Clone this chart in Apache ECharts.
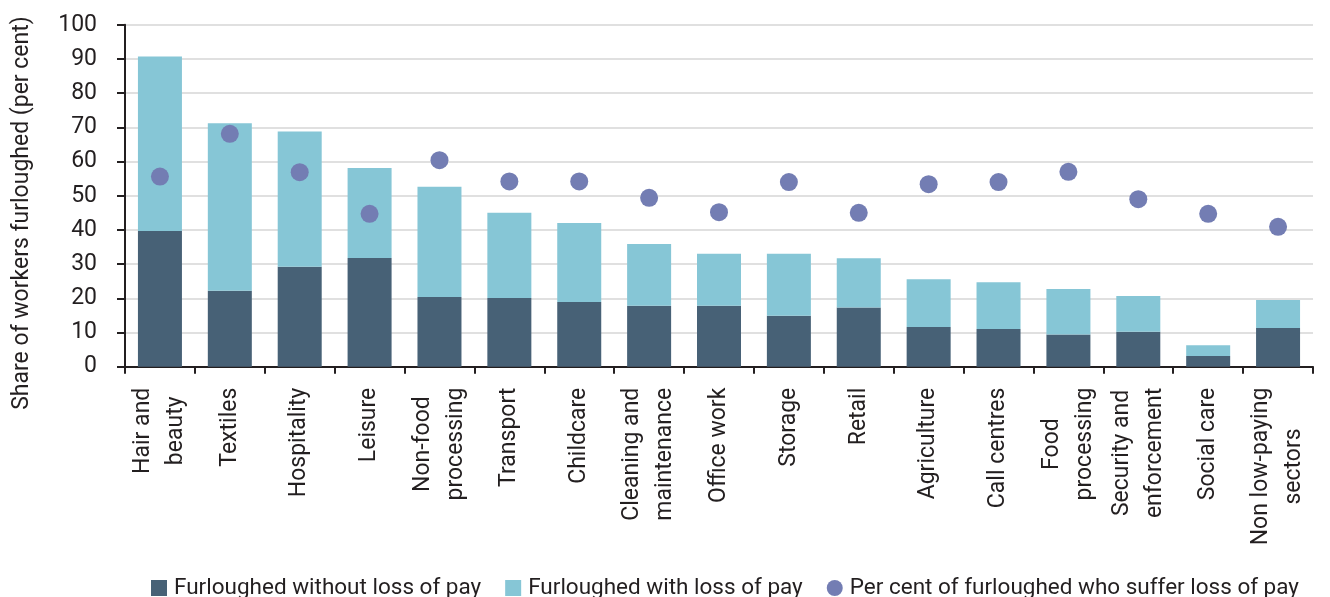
<!DOCTYPE html>
<html>
<head>
<meta charset="utf-8">
<script src="https://cdn.jsdelivr.net/npm/echarts@6/dist/echarts.min.js"></script>
<style>
html,body{margin:0;padding:0;background:#ffffff;}
#chart{width:1330px;height:597px;}
</style>
</head>
<body>
<div id="chart"></div>
<script>
// ---- Data ----
const categories = [
  'Hair and\nbeauty', 'Textiles', 'Hospitality', 'Leisure', 'Non-food\nprocessing',
  'Transport', 'Childcare', 'Cleaning and\nmaintenance', 'Office work', 'Storage',
  'Retail', 'Agriculture', 'Call centres', 'Food\nprocessing', 'Security and\nenforcement',
  'Social care', 'Non low-paying\nsectors'
];
const withoutLossOfPay = [39.7, 22.2, 29.2, 31.8, 20.4, 20.1, 18.9, 17.8, 17.8, 14.9, 17.3, 11.6, 11.0, 9.4, 10.2, 3.1, 11.3];
const withLossOfPay    = [51.0, 49.0, 39.6, 26.3, 32.2, 24.9, 23.1, 18.1, 15.2, 18.1, 14.4, 14.0, 13.7, 13.3, 10.5, 3.2, 8.2];
const shareSufferLoss  = [55.6, 68.1, 56.9, 44.7, 60.4, 54.2, 54.2, 49.4, 45.2, 54.0, 45.0, 53.4, 54.0, 57.0, 49.0, 44.7, 40.9];
const yAxisMin = 0, yAxisMax = 100, yAxisStep = 10;
const seriesNames = ['Furloughed without loss of pay', 'Furloughed with loss of pay', 'Per cent of furloughed who suffer loss of pay'];
const yAxisTitle = 'Share of workers furloughed (per cent)';

// ---- Styling ----
const FONT = "Roboto, 'Liberation Sans', sans-serif";
const FS = 23;
const TEXT = '#231f20';
const DARK = '#476176';
const LIGHT = '#86c6d6';
const DOT = '#737db3';

const chart = echarts.init(document.getElementById('chart'), null, {renderer: 'canvas'});
chart.setOption({
  animation: false,
  backgroundColor: '#ffffff',
  textStyle: {fontFamily: FONT, color: TEXT},
  grid: {left: 125, right: 17, top: 24.8, bottom: 230.3, containLabel: false, outerBoundsMode: 'none'},
  legend: {
    left: 146, top: 570,
    itemWidth: 16, itemHeight: 16, itemGap: 24,
    textStyle: {fontFamily: FONT, fontSize: 22.5, color: TEXT, lineHeight: 26, padding: [0, 0, 0, 2]},
    data: [
      {name: seriesNames[0], icon: 'rect'},
      {name: seriesNames[1], icon: 'rect'},
      {name: seriesNames[2], icon: 'circle'}
    ]
  },
  graphic: [{
    type: 'text',
    x: 22, y: 213,
    rotation: Math.PI / 2,
    style: {
      text: yAxisTitle, fontFamily: FONT, fontSize: FS, fill: TEXT,
      align: 'center', verticalAlign: 'middle'
    }
  }],
  xAxis: {
    type: 'category',
    data: categories,
    boundaryGap: true,
    axisLine: {show: true, lineStyle: {color: TEXT, width: 2}},
    axisTick: {show: true, length: 7, lineStyle: {color: TEXT, width: 2}},
    axisLabel: {
      interval: 0, rotate: 90, margin: 21,
      fontFamily: FONT, fontSize: FS, color: TEXT,
      formatter: function (v) {
        return v.split('\n').map(function (s) { return '{c|' + s + '}'; }).join('\n');
      },
      rich: {c: {align: 'center', fontFamily: FONT, fontSize: FS, color: TEXT, lineHeight: 33}}
    },
    splitLine: {show: false}
  },
  yAxis: {
    type: 'value',
    min: yAxisMin, max: yAxisMax, interval: yAxisStep,
    axisLine: {show: true, lineStyle: {color: TEXT, width: 2}},
    axisTick: {show: true, length: 8, lineStyle: {color: TEXT, width: 2}},
    axisLabel: {margin: 28, fontFamily: FONT, fontSize: FS, color: TEXT},
    splitLine: {show: true, lineStyle: {color: '#e0e0e0', width: 2}}
  },
  series: [
    {
      name: seriesNames[0], type: 'bar', stack: 'furlough', barWidth: 44,
      itemStyle: {color: DARK}, data: withoutLossOfPay, z: 2
    },
    {
      name: seriesNames[1], type: 'bar', stack: 'furlough', barWidth: 44,
      itemStyle: {color: LIGHT}, data: withLossOfPay, z: 2
    },
    {
      name: seriesNames[2], type: 'scatter', symbol: 'circle', symbolSize: 18,
      itemStyle: {color: DOT, opacity: 1}, data: shareSufferLoss, z: 5
    }
  ]
});
</script>
</body>
</html>
